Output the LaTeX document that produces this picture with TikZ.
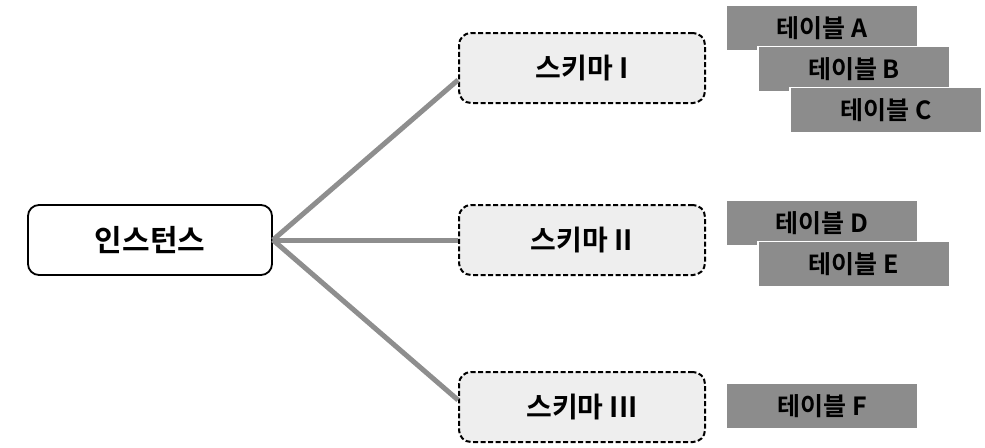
\documentclass[tikz,border=0pt]{standalone}
\usepackage{fontspec}
\setmainfont{Noto Sans CJK KR}[BoldFont={* Bold}]
\definecolor{linegray}{HTML}{8E8E8E}
\definecolor{tablegray}{HTML}{8C8C8C}
\definecolor{schemagray}{HTML}{EEEEEE}
\begin{document}
\begin{tikzpicture}[x=1pt,y=-1pt,
instance/.style={draw=black,line width=1.8pt,fill=white,rounded corners=11pt,
  minimum width=244pt,minimum height=70pt,font=\fontsize{30}{34}\selectfont\bfseries},
schema/.style={draw=black,dash pattern=on 5pt off 2.5pt,line width=2pt,fill=schemagray,rounded corners=12pt,
  minimum width=246pt,minimum height=70pt,font=\fontsize{28}{32}\selectfont\bfseries},
table/.style={draw=white,line width=1.2pt,fill=tablegray,
  minimum width=192pt,minimum height=45pt,font=\fontsize{25}{28}\selectfont\bfseries},
link/.style={draw=linegray,line width=5pt},]
\useasboundingbox (0,0) rectangle (985,447);
\node[instance] (inst) at (150,240) {인스턴스};
\node[schema] (s1) at (582,68) {스키마 I};
\node[schema] (s2) at (582,240) {스키마 II};
\node[schema] (s3) at (582,407) {스키마 III};
% links
\draw[link] (inst.east) -- ([yshift=-12pt]s1.west);
\draw[link] (inst.east) -- (s2.west);
\draw[link] (inst.east) -- ([yshift=7pt]s3.west);
% tables
\node[table] (ta) at (822,28) {테이블 A};
\node[table] (tb) at (854,69) {테이블 B};
\node[table] (tc) at (886,110) {테이블 C};
\node[table] (td) at (822,223) {테이블 D};
\node[table] (te) at (854,264) {테이블 E};
\node[table] (tf) at (822,406) {테이블 F};
\end{tikzpicture}
\end{document}
